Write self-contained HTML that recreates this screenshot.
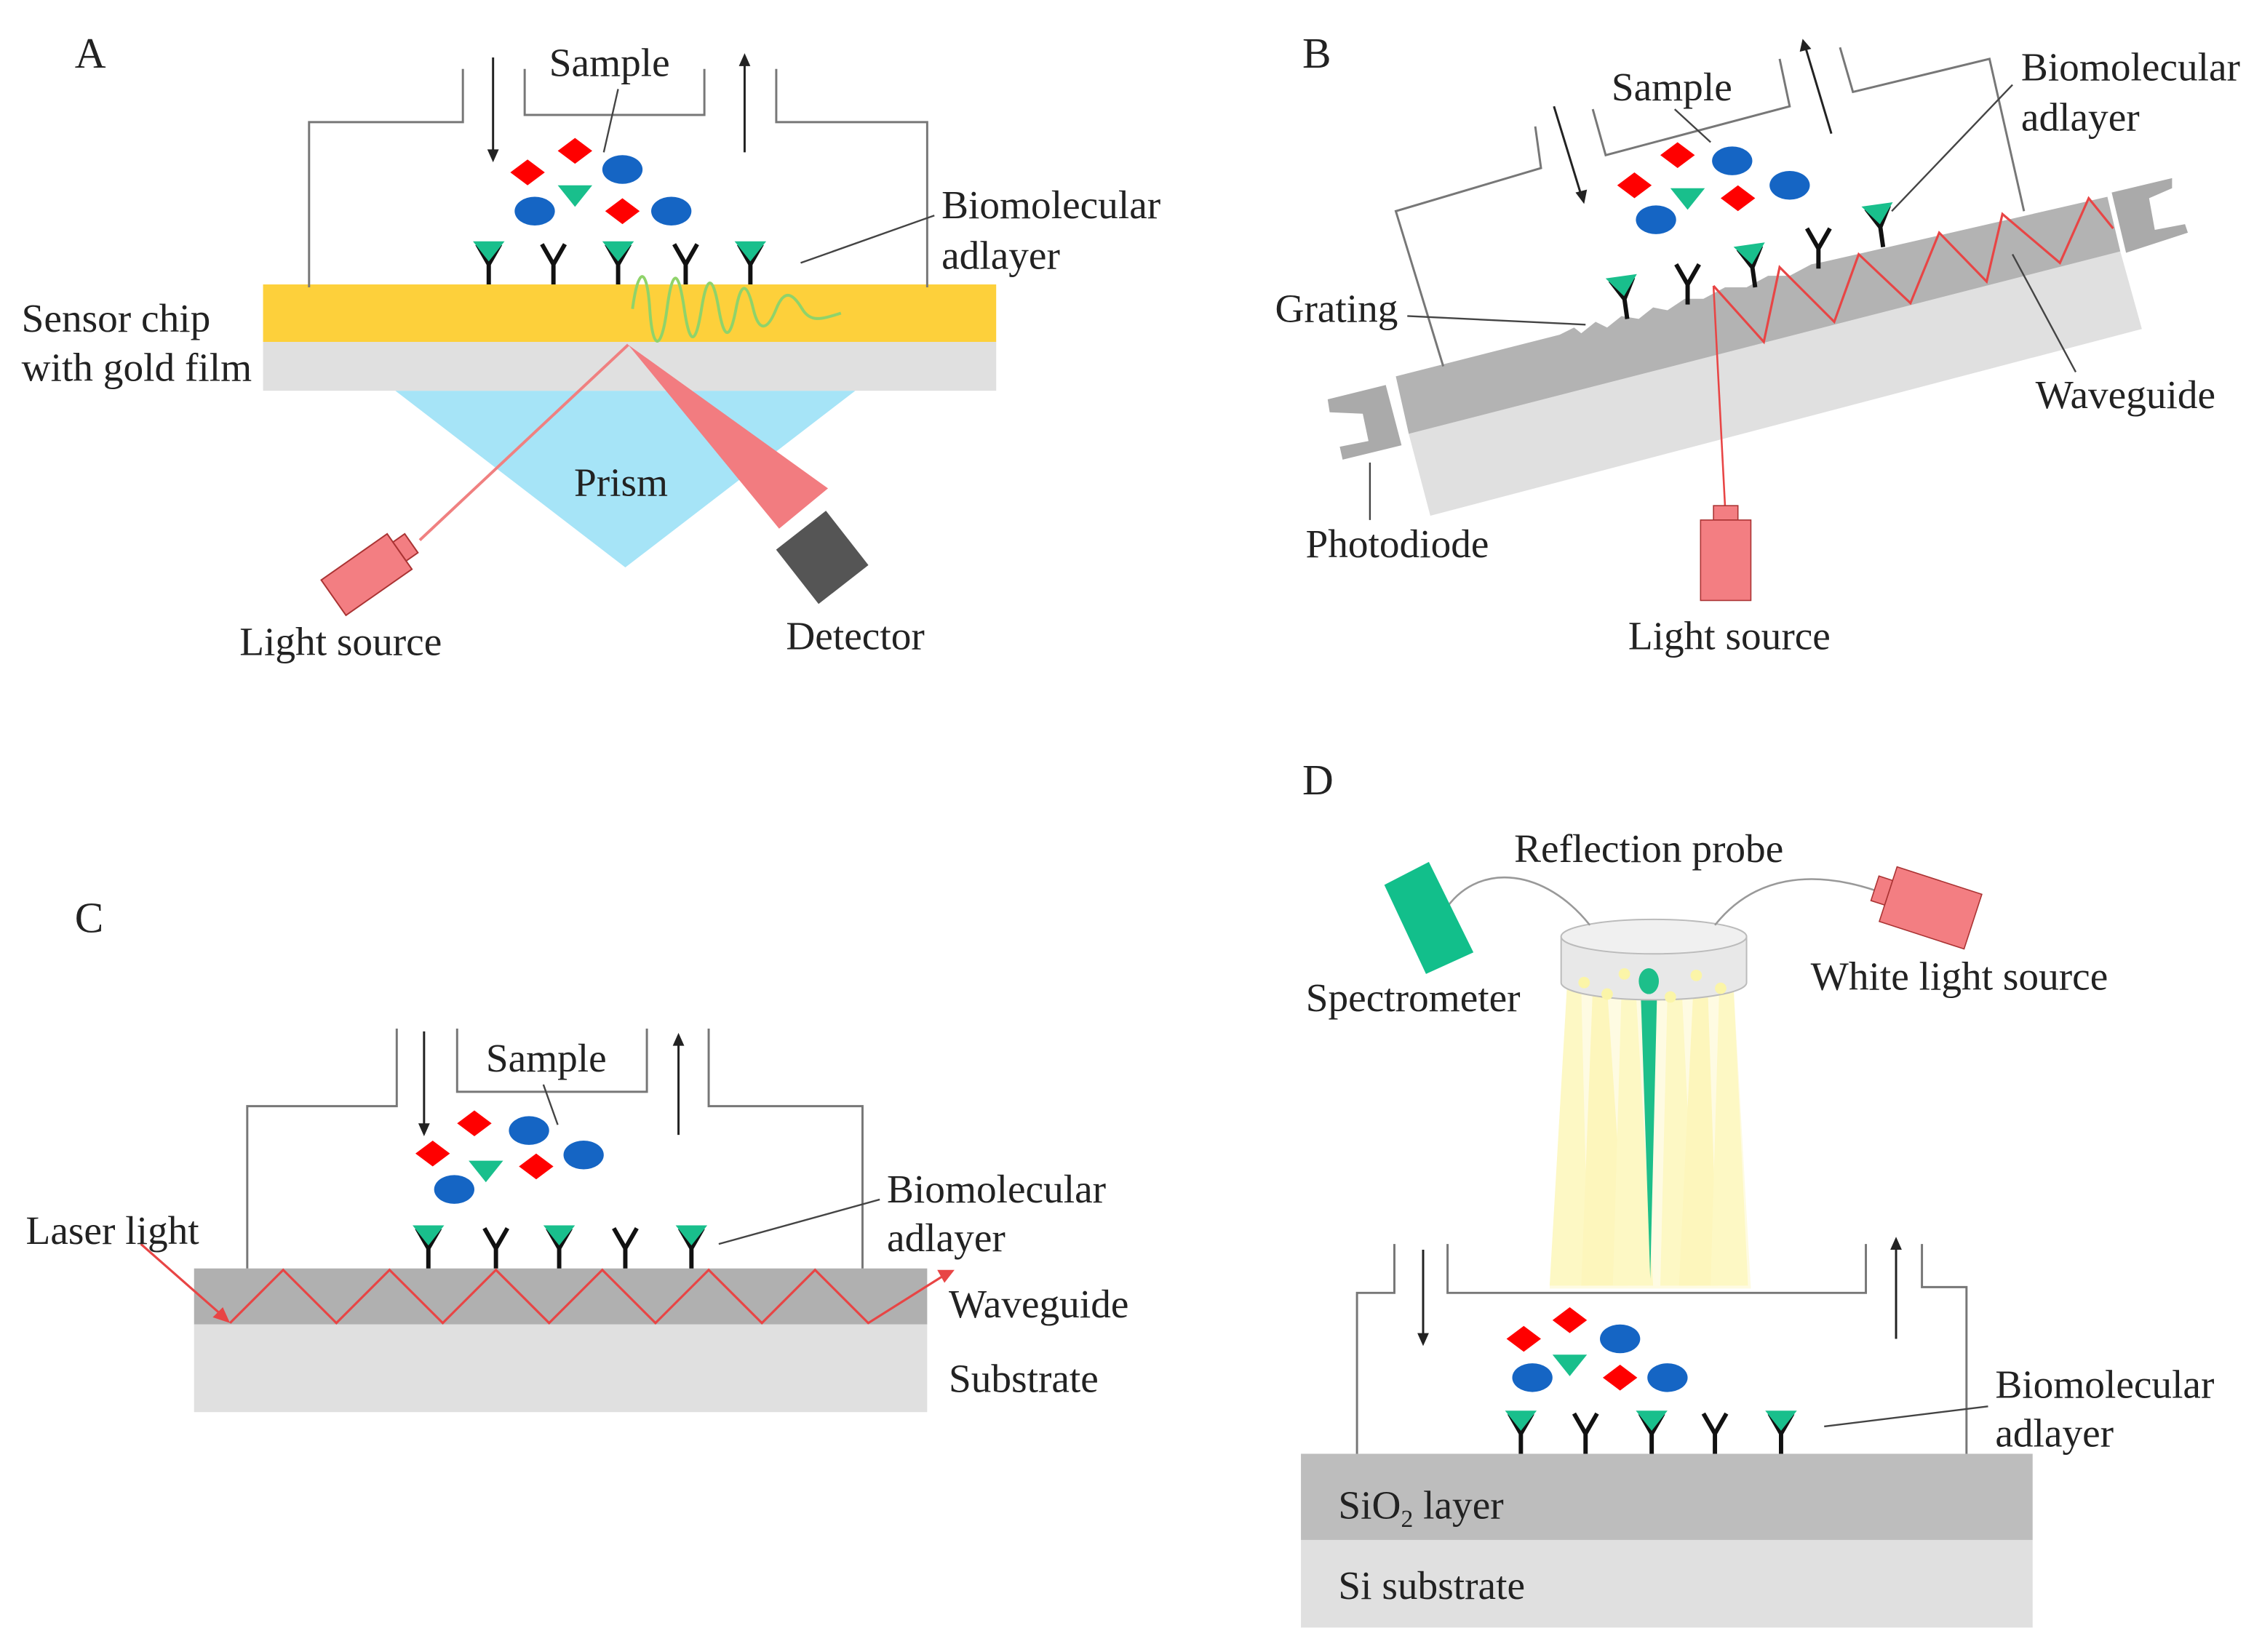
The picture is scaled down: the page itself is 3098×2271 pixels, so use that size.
<!DOCTYPE html>
<html><head><meta charset="utf-8">
<style>
html,body{margin:0;padding:0;background:#fff;}
svg{display:block;}
text{font-family:"Liberation Serif",serif;fill:#222;}
</style></head>
<body>
<svg width="3098" height="2271" viewBox="0 0 1568 1150" preserveAspectRatio="none" xmlns="http://www.w3.org/2000/svg">
<defs>
  <g id="Y"><path d="M0,0 L0,-14 M0,-14 L-8,-28 M0,-14 L8,-28" stroke="#111" stroke-width="3" fill="none"/></g>
  <g id="TY"><path d="M0,0 L0,-14 M0,-14 L-8,-28 M0,-14 L8,-28" stroke="#111" stroke-width="3" fill="none"/><polygon points="-11,-30 11,-30 0,-16" fill="#19bf8c"/></g>
  <polygon id="dia" points="0,-9 12,0 0,9 -12,0" fill="#f00"/>
  <ellipse id="ell" rx="14" ry="10" fill="#1565c4"/>
  <polygon id="tri" points="-12,-7 12,-7 0,8" fill="#19bf8c"/>
</defs>
<rect width="1568" height="1150" fill="#fff"/>

<!-- ================= PANEL A ================= -->
<text x="52" y="47" font-size="30">A</text>
<polygon points="275,272 595,272 435,395" fill="#a6e4f7"/>
<rect x="183" y="198" width="510" height="40" fill="#fdd03b"/>
<rect x="183" y="238" width="510" height="34" fill="#e0e0e0"/>
<path d="M215,200 L215,85 L322,85 L322,48 M365,48 L365,80 L490,80 L490,48 M540,48 L540,85 L645,85 L645,200" stroke="#777" stroke-width="1.5" fill="none"/>
<path d="M343,40 L343,108" stroke="#222" stroke-width="1.5"/><polygon points="339,104 347,104 343,113" fill="#222"/>
<path d="M518,106 L518,42" stroke="#222" stroke-width="1.5"/><polygon points="514,46 522,46 518,37" fill="#222"/>
<use href="#dia" x="367" y="120"/><use href="#dia" x="400" y="105"/><use href="#dia" x="433" y="147"/>
<use href="#ell" x="433" y="118"/><use href="#ell" x="372" y="147"/><use href="#ell" x="467" y="147"/>
<use href="#tri" x="400" y="136"/>
<use href="#TY" x="340" y="198"/><use href="#Y" x="385" y="198"/><use href="#TY" x="430" y="198"/><use href="#Y" x="477" y="198"/><use href="#TY" x="522" y="198"/>
<path d="M440,215 C444,185 450,185 452,215 S460,245 464,215 S472,188 476,215 S484,240 488,215 S496,192 500,215 S508,236 512,215 S520,198 524,215 S534,230 540,215 S552,205 558,215 S572,222 585,218" stroke="#8fd36a" stroke-width="2" fill="none"/>
<line x1="292" y1="376" x2="437" y2="240" stroke="#f08080" stroke-width="2"/>
<polygon points="437,240 542,368 576,340" fill="#f27c80"/>
<g transform="translate(255,400) rotate(-35)"><rect x="-28" y="-15" width="56" height="30" fill="#f37e82" stroke="#a33" stroke-width="1"/><rect x="28" y="-8" width="10" height="16" fill="#f37e82" stroke="#a33" stroke-width="1"/></g>
<g transform="translate(572,388) rotate(-38)"><rect x="-22" y="-24" width="44" height="48" fill="#555"/></g>
<text x="424" y="53" font-size="28" text-anchor="middle">Sample</text>
<line x1="420" y1="106" x2="430" y2="62" stroke="#444" stroke-width="1.2"/>
<text x="655" y="152" font-size="28">Biomolecular</text>
<text x="655" y="187" font-size="28">adlayer</text>
<line x1="557" y1="183" x2="650" y2="150" stroke="#444" stroke-width="1.2"/>
<text x="15" y="231" font-size="28">Sensor chip</text>
<text x="15" y="265" font-size="28">with gold film</text>
<text x="432" y="345" font-size="28" text-anchor="middle">Prism</text>
<text x="237" y="456" font-size="28" text-anchor="middle">Light source</text>
<text x="595" y="452" font-size="28" text-anchor="middle">Detector</text>

<!-- ================= PANEL B ================= -->
<text x="906" y="47" font-size="30">B</text>
<polygon points="980,302 1475,175 1490,229 995,359" fill="#e0e0e0"/>
<polygon points="971,262 1085,233 1095,228 1100,232 1110,224 1118,228 1128,220 1140,222 1150,214 1160,216 1172,208 1185,208 1200,200 1215,200 1230,192 1245,192 1260,184 1270,182 1466,137 1475,175 980,302" fill="#b3b3b3"/>
<polygon points="923.6,278 964,268 975,310 934,320 932,311 952,307 948,288 925,287" fill="#aaa"/>
<polygon points="1469,134 1511,124 1511,131 1495,138 1499,160 1520,156 1522,162 1479,176" fill="#aaa"/>
<path d="M1004,255 L971,147 L1072,117 L1068,88 M1108,76 L1117,108 L1245,74 L1238,41 M1280,33 L1289,64 L1384,41 L1408,147" stroke="#777" stroke-width="1.5" fill="none"/>
<path d="M1081,74 L1100,136" stroke="#222" stroke-width="1.5"/><polygon points="1096,134 1104,132 1102,142" fill="#222"/>
<path d="M1274,93 L1256,33" stroke="#222" stroke-width="1.5"/><polygon points="1252,36 1260,34 1254,27" fill="#222"/>
<use href="#dia" x="1167" y="108"/><use href="#dia" x="1137" y="129"/><use href="#dia" x="1209" y="138"/>
<use href="#ell" x="1205" y="112"/><use href="#ell" x="1245" y="129"/><use href="#ell" x="1152" y="153"/>
<use href="#tri" x="1174" y="138"/>
<use href="#TY" x="1132" y="222" transform="rotate(-8 1132 222)"/>
<use href="#Y" x="1174" y="212"/>
<use href="#TY" x="1221" y="200" transform="rotate(-8 1221 200)"/>
<use href="#Y" x="1265" y="187"/>
<use href="#TY" x="1310" y="172" transform="rotate(-8 1310 172)"/>
<polyline points="1192,199 1227,238 1238,186 1276,224 1293,177 1329,211 1349,162 1382,196 1393,149 1433,183 1453,138 1470,159" stroke="#e84545" stroke-width="1.6" fill="none"/>
<line x1="1192" y1="199" x2="1200" y2="352" stroke="#e84545" stroke-width="1.3"/>
<rect x="1192" y="352" width="17" height="10" fill="#f37e82" stroke="#a33" stroke-width="0.8"/>
<rect x="1183" y="362" width="35" height="56" fill="#f37e82" stroke="#a33" stroke-width="0.8"/>
<text x="1163" y="70" font-size="28" text-anchor="middle">Sample</text>
<line x1="1165" y1="76" x2="1190" y2="99" stroke="#444" stroke-width="1.2"/>
<text x="1406" y="56" font-size="28">Biomolecular</text>
<text x="1406" y="91" font-size="28">adlayer</text>
<line x1="1400" y1="59" x2="1316" y2="147" stroke="#444" stroke-width="1.2"/>
<text x="887" y="224" font-size="28">Grating</text>
<line x1="979" y1="220" x2="1103" y2="226" stroke="#444" stroke-width="1.2"/>
<text x="1416" y="284" font-size="28">Waveguide</text>
<line x1="1400" y1="177" x2="1444" y2="259" stroke="#444" stroke-width="1.2"/>
<line x1="953" y1="322" x2="953" y2="362" stroke="#444" stroke-width="1.2"/>
<text x="972" y="388" font-size="28" text-anchor="middle">Photodiode</text>
<text x="1203" y="452" font-size="28" text-anchor="middle">Light source</text>

<!-- ================= PANEL C ================= -->
<text x="52" y="649" font-size="30">C</text>
<rect x="135" y="883" width="510" height="39" fill="#b0b0b0"/>
<rect x="135" y="922" width="510" height="61" fill="#e0e0e0"/>
<path d="M172,883 L172,770 L276,770 L276,716 M318,716 L318,760 L450,760 L450,716 M493,716 L493,770 L600,770 L600,883" stroke="#777" stroke-width="1.5" fill="none"/>
<path d="M295,718 L295,786" stroke="#222" stroke-width="1.5"/><polygon points="291,782 299,782 295,791" fill="#222"/>
<path d="M472,790 L472,724" stroke="#222" stroke-width="1.5"/><polygon points="468,728 476,728 472,719" fill="#222"/>
<use href="#dia" x="330" y="782"/><use href="#dia" x="301" y="803"/><use href="#dia" x="373" y="812"/>
<use href="#ell" x="368" y="787"/><use href="#ell" x="406" y="804"/><use href="#ell" x="316" y="828"/>
<use href="#tri" x="338" y="815"/>
<use href="#TY" x="298" y="883"/><use href="#Y" x="345" y="883"/><use href="#TY" x="389" y="883"/><use href="#Y" x="435" y="883"/><use href="#TY" x="481" y="883"/>
<line x1="98" y1="866" x2="156" y2="917" stroke="#e84545" stroke-width="1.6"/>
<polygon points="160,921 148,917 155,910" fill="#e84545"/>
<polyline points="160,921 197,884 234,921 271,884 308,921 345,884 382,921 419,884 456,921 493,884 530,921 567,884 604,921 658,887" stroke="#e84545" stroke-width="1.6" fill="none"/>
<polygon points="664,884 652,884 657,893" fill="#e84545"/>
<text x="380" y="746" font-size="28" text-anchor="middle">Sample</text>
<line x1="378" y1="755" x2="388" y2="783" stroke="#444" stroke-width="1.2"/>
<text x="18" y="866" font-size="28">Laser light</text>
<text x="617" y="837" font-size="28">Biomolecular</text>
<text x="617" y="871" font-size="28">adlayer</text>
<line x1="500" y1="866" x2="612" y2="835" stroke="#444" stroke-width="1.2"/>
<text x="660" y="917" font-size="28">Waveguide</text>
<text x="660" y="969" font-size="28">Substrate</text>

<!-- ================= PANEL D ================= -->
<text x="906" y="553" font-size="30">D</text>
<rect x="905" y="1012" width="509" height="60" fill="#bdbdbd"/>
<rect x="905" y="1072" width="509" height="61" fill="#e0e0e0"/>
<polygon points="1092,688 1206,688 1218,897 1078,897" fill="#fefbe2"/>
<polygon points="1090,688 1100,688 1105,895 1078,895" fill="#fdf8c4"/>
<polygon points="1108,688 1118,688 1132,895 1100,895" fill="#fdf6bc"/>
<polygon points="1128,690 1138,690 1150,895 1122,895" fill="#fdf8c4"/>
<polygon points="1160,690 1170,690 1180,895 1155,895" fill="#fdf8c4"/>
<polygon points="1178,688 1188,688 1195,895 1168,895" fill="#fdf6bc"/>
<polygon points="1196,688 1206,688 1216,895 1190,895" fill="#fdf8c4"/>
<polygon points="1141,680 1153,680 1148,890" fill="#1dbf8a"/>
<path d="M1086,652 L1086,684 A64.5,12 0 0 0 1215,684 L1215,652 Z" fill="#e8e8e8" stroke="#bbb" stroke-width="1"/>
<ellipse cx="1150.5" cy="652" rx="64.5" ry="12" fill="#f0f0f0" stroke="#bbb" stroke-width="1"/>
<g fill="#fbf5a8"><circle cx="1102" cy="684" r="4"/><circle cx="1118" cy="692" r="4"/><circle cx="1130" cy="678" r="4"/><circle cx="1162" cy="694" r="4"/><circle cx="1180" cy="679" r="4"/><circle cx="1197" cy="688" r="4"/></g>
<ellipse cx="1147" cy="683" rx="7" ry="9" fill="#1dbf8a"/>
<path d="M1007,631 C1030,600 1075,605 1106,644" stroke="#999" stroke-width="1.3" fill="none"/>
<path d="M1193,644 C1220,610 1260,605 1305,620" stroke="#999" stroke-width="1.3" fill="none"/>
<polygon points="963,616 994,600 1025,663 992,678" fill="#12bf8b"/>
<g transform="translate(1343,632) rotate(18)"><rect x="-31" y="-20" width="62" height="40" fill="#f37e82" stroke="#a33" stroke-width="0.8"/><rect x="-41" y="-10" width="10" height="18" fill="#f37e82" stroke="#a33" stroke-width="0.8"/></g>
<path d="M944,1012 L944,900 L970,900 L970,866 M1007,866 L1007,900 L1298,900 L1298,866 M1337,866 L1337,896 L1368,896 L1368,1012" stroke="#777" stroke-width="1.5" fill="none"/>
<path d="M990,870 L990,932" stroke="#222" stroke-width="1.5"/><polygon points="986,928 994,928 990,937" fill="#222"/>
<path d="M1319,932 L1319,866" stroke="#222" stroke-width="1.5"/><polygon points="1315,870 1323,870 1319,861" fill="#222"/>
<use href="#dia" x="1092" y="919"/><use href="#dia" x="1060" y="932"/><use href="#dia" x="1127" y="959"/>
<use href="#ell" x="1127" y="932"/><use href="#ell" x="1066" y="959"/><use href="#ell" x="1160" y="959"/>
<use href="#tri" x="1092" y="950"/>
<use href="#TY" x="1058" y="1012"/><use href="#Y" x="1103" y="1012"/><use href="#TY" x="1149" y="1012"/><use href="#Y" x="1193" y="1012"/><use href="#TY" x="1239" y="1012"/>
<line x1="1269" y1="993" x2="1383" y2="979" stroke="#444" stroke-width="1.2"/>
<text x="1388" y="973" font-size="28">Biomolecular</text>
<text x="1388" y="1007" font-size="28">adlayer</text>
<text x="1147" y="600" font-size="28" text-anchor="middle">Reflection probe</text>
<text x="983" y="704" font-size="28" text-anchor="middle">Spectrometer</text>
<text x="1363" y="689" font-size="28" text-anchor="middle">White light source</text>
<text x="931" y="1057" font-size="28">SiO<tspan font-size="17" dy="6">2</tspan><tspan dy="-6"> layer</tspan></text>
<text x="931" y="1113" font-size="28">Si substrate</text>
</svg>
</body></html>
